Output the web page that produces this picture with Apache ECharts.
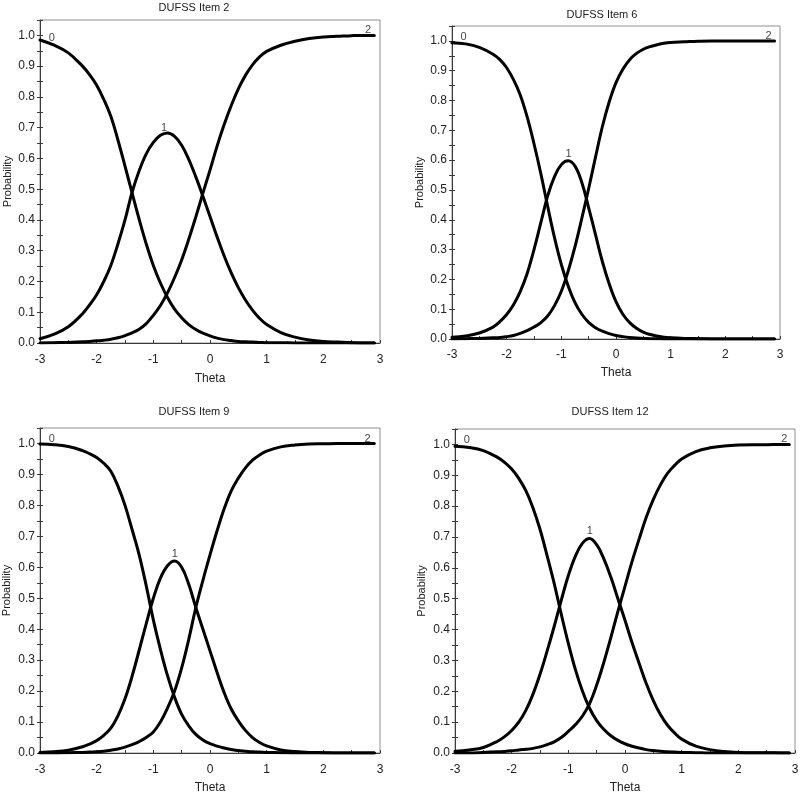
<!DOCTYPE html>
<html>
<head>
<meta charset="utf-8">
<script src="https://cdn.jsdelivr.net/npm/echarts@6/dist/echarts.min.js"></script>
<style>
html,body{margin:0;padding:0;background:#fff;}
#chart{width:800px;height:795px;}
</style>
</head>
<body>
<div id="chart"></div>
<script>
// ---- Data ----
const theta = [-3,-2.75,-2.5,-2.25,-2.125,-2,-1.875,-1.75,-1.625,-1.5,-1.375,-1.25,-1.125,-1,-0.875,-0.75,-0.625,-0.5,-0.375,-0.25,-0.125,0,0.125,0.25,0.375,0.5,0.625,0.75,0.875,1,1.25,1.5,1.75,2,2.25,2.5,2.75,2.9];

const panelTitles = ['DUFSS Item 2','DUFSS Item 6','DUFSS Item 9','DUFSS Item 12'];
const categoryNames = ['0','1','2'];
const xTickLabels = ['-3','-2','-1','0','1','2','3'];
const yTickLabels = ['0.0','0.1','0.2','0.3','0.4','0.5','0.6','0.7','0.8','0.9','1.0'];

const item2_cat0 = [0.985,0.968,0.943,0.9,0.872,0.838,0.792,0.737,0.66,0.575,0.488,0.402,0.322,0.252,0.195,0.148,0.11,0.082,0.06,0.044,0.032,0.023,0.016,0.011,0.008,0.005,0.004,0.003,0.002,0.001,0.001,0,0,0,0,0,0,0];
const item2_cat1 = [0.014,0.029,0.053,0.095,0.124,0.157,0.2,0.252,0.322,0.4,0.49,0.56,0.615,0.652,0.675,0.683,0.672,0.643,0.597,0.54,0.477,0.411,0.345,0.283,0.228,0.18,0.14,0.107,0.08,0.06,0.034,0.019,0.01,0.005,0.003,0.001,0,0];
const item2_cat2 = [0,0.001,0.002,0.004,0.005,0.007,0.009,0.012,0.017,0.024,0.033,0.045,0.063,0.09,0.122,0.163,0.213,0.27,0.337,0.41,0.487,0.562,0.64,0.71,0.772,0.826,0.87,0.904,0.93,0.948,0.968,0.981,0.99,0.995,0.997,0.999,1,1];

const item6_cat0 = [0.994,0.99,0.978,0.955,0.937,0.91,0.87,0.818,0.745,0.655,0.555,0.445,0.34,0.25,0.178,0.122,0.083,0.056,0.038,0.026,0.018,0.012,0.008,0.005,0.003,0.002,0.001,0.001,0,0,0,0,0,0,0,0,0,0];
const item6_cat1 = [0.006,0.01,0.02,0.04,0.058,0.082,0.115,0.16,0.22,0.3,0.39,0.48,0.545,0.585,0.598,0.58,0.525,0.44,0.35,0.26,0.185,0.125,0.083,0.055,0.036,0.023,0.015,0.01,0.006,0.004,0.002,0.001,0,0,0,0,0,0];
const item6_cat2 = [0,0.001,0.002,0.004,0.005,0.008,0.012,0.019,0.028,0.04,0.055,0.077,0.112,0.16,0.228,0.31,0.405,0.505,0.61,0.712,0.795,0.86,0.905,0.937,0.958,0.972,0.981,0.987,0.992,0.995,0.997,0.999,1,1,1,1,1,1];

const item9_cat0 = [0.998,0.996,0.99,0.977,0.967,0.955,0.936,0.91,0.862,0.8,0.722,0.64,0.54,0.43,0.335,0.25,0.18,0.125,0.088,0.06,0.042,0.03,0.022,0.016,0.011,0.008,0.006,0.004,0.003,0.002,0.001,0,0,0,0,0,0,0];
const item9_cat1 = [0.002,0.004,0.009,0.02,0.029,0.04,0.057,0.08,0.12,0.175,0.248,0.332,0.418,0.5,0.565,0.605,0.62,0.6,0.545,0.47,0.4,0.33,0.26,0.195,0.142,0.104,0.073,0.05,0.034,0.023,0.01,0.005,0.002,0.001,0,0,0,0];
const item9_cat2 = [0,0,0.001,0.002,0.003,0.004,0.006,0.009,0.013,0.019,0.027,0.037,0.05,0.068,0.1,0.145,0.2,0.275,0.367,0.47,0.558,0.64,0.718,0.789,0.847,0.888,0.921,0.946,0.963,0.975,0.989,0.995,0.998,0.999,1,1,1,1];

const item12_cat0 = [0.994,0.99,0.98,0.958,0.942,0.92,0.89,0.85,0.795,0.725,0.64,0.55,0.45,0.355,0.27,0.2,0.145,0.105,0.077,0.056,0.041,0.03,0.022,0.016,0.011,0.008,0.006,0.004,0.003,0.002,0.001,0,0,0,0,0,0,0];
const item12_cat1 = [0.006,0.01,0.018,0.038,0.053,0.073,0.1,0.138,0.19,0.255,0.33,0.41,0.495,0.575,0.638,0.68,0.695,0.675,0.63,0.57,0.5,0.43,0.357,0.29,0.225,0.17,0.125,0.09,0.065,0.045,0.022,0.011,0.005,0.002,0.001,0.001,0,0];
const item12_cat2 = [0,0,0.002,0.004,0.005,0.007,0.01,0.012,0.015,0.02,0.027,0.036,0.05,0.07,0.092,0.12,0.16,0.22,0.293,0.374,0.459,0.54,0.621,0.694,0.764,0.822,0.869,0.906,0.932,0.953,0.977,0.989,0.995,0.998,0.999,0.999,1,1];

// curve label anchor points [theta, probability] for categories 0,1,2
const item2_labelAt  = [[-2.79,0.99],[-0.81,0.70],[2.79,1.016]];
const item6_labelAt  = [[-2.79,1.012],[-0.87,0.62],[2.79,1.018]];
const item9_labelAt  = [[-2.79,1.014],[-0.62,0.642],[2.78,1.016]];
const item12_labelAt = [[-2.79,1.014],[-0.62,0.718],[2.81,1.018]];

const panelCurves = [
  [item2_cat0,item2_cat1,item2_cat2],
  [item6_cat0,item6_cat1,item6_cat2],
  [item9_cat0,item9_cat1,item9_cat2],
  [item12_cat0,item12_cat1,item12_cat2]
];
const panelLabels = [item2_labelAt,item6_labelAt,item9_labelAt,item12_labelAt];

// ---- Layout ----
const FONT = '"Liberation Sans", Arial, Helvetica, sans-serif';
const TXT = '#222';
const AX = '#3a3a3a';
const layout = [
  {left:40,  top:20,  width:340, height:323, tx:194, ty:7.5, xGap:30,   xMargin:11,   yGap:27},
  {left:452, top:26,  width:328, height:313, tx:602, ty:15,  xGap:28,   xMargin:9.5,  yGap:27},
  {left:40,  top:428, width:340, height:325, tx:194, ty:412, xGap:28.5, xMargin:10.5, yGap:28},
  {left:455, top:429, width:340, height:324, tx:610, ty:412, xGap:28.5, xMargin:10.5, yGap:28}
];

function near(v, step){ const k = v/step; return Math.abs(k - Math.round(k)) < 1e-6; }
function xFmt(v){
  if (!near(v,1)) return '';
  const idx = Math.round(v) + 3;
  return xTickLabels[idx] !== undefined ? xTickLabels[idx] : '';
}
function yFmt(v){
  if (!near(v,0.1) || v > 1.0001) return '';
  return yTickLabels[Math.round(v*10)];
}

const grids = [], xAxes = [], yAxes = [], series = [], graphics = [];
layout.forEach((L, i) => {
  grids.push({left:L.left, top:L.top, width:L.width, height:L.height, show:true,
    borderColor:'#8f8f8f', borderWidth:1, backgroundColor:'transparent',
    containLabel:false, outerBoundsMode:'none'});
  xAxes.push({
    type:'value', gridIndex:i, min:-3, max:3, interval:0.5, position:'bottom',
    name:'Theta', nameLocation:'middle', nameGap:L.xGap,
    nameTextStyle:{fontSize:12, color:TXT, fontFamily:FONT},
    axisLine:{show:true, onZero:false, lineStyle:{color:AX, width:1}},
    axisTick:{show:true, inside:true, length:3, lineStyle:{color:AX, width:1}},
    axisLabel:{show:true, margin:L.xMargin, fontSize:12, color:TXT, fontFamily:FONT, formatter:xFmt,
      showMinLabel:true, showMaxLabel:true, hideOverlap:false},
    splitLine:{show:false}, minorTick:{show:false}
  });
  yAxes.push({
    type:'value', gridIndex:i, min:0, max:1.05, interval:0.05, position:'left',
    name:'Probability', nameLocation:'middle', nameGap:L.yGap, nameRotate:90,
    nameTextStyle:{fontSize:11, color:TXT, fontFamily:FONT},
    axisLine:{show:true, onZero:false, lineStyle:{color:AX, width:1}},
    axisTick:{show:true, inside:false, length:3, lineStyle:{color:AX, width:1}},
    axisLabel:{show:true, margin:5, fontSize:12, color:TXT, fontFamily:FONT, formatter:yFmt,
      showMinLabel:true, showMaxLabel:true, hideOverlap:false},
    splitLine:{show:false}
  });
  yAxes.push({
    type:'value', gridIndex:i, min:0, max:1.05, interval:0.05, position:'left',
    axisLine:{show:false, onZero:false},
    axisTick:{show:true, inside:true, length:3, lineStyle:{color:AX, width:1}},
    axisLabel:{show:false}, splitLine:{show:false}
  });
  panelCurves[i].forEach((vals, c) => {
    series.push({
      type:'line', name:categoryNames[c], xAxisIndex:i, yAxisIndex:2*i,
      data: theta.map((t,k)=>[t, vals[k]]),
      smooth:0.4, symbol:'none', showSymbol:false, silent:true, animation:false,
      lineStyle:{color:'#000', width:3, cap:'round', join:'round'}, z:3
    });
  });
  series.push({
    type:'scatter', xAxisIndex:i, yAxisIndex:2*i+1, silent:true, animation:false,
    symbolSize:1, itemStyle:{color:'rgba(0,0,0,0)'},
    data: panelLabels[i].map((pt,c)=>({value:pt, name:categoryNames[c]})),
    label:{show:true, position:'inside', formatter:'{b}', fontSize:11, color:'#111', fontFamily:FONT},
    z:5
  });
  graphics.push({type:'text', x:L.tx, y:L.ty, silent:true,
    style:{text:panelTitles[i], font:'11px '+FONT, fill:TXT, align:'center', verticalAlign:'middle',
      textAlign:'center', textVerticalAlign:'middle'}});
});

const chart = echarts.init(document.getElementById('chart'), null, {renderer:'canvas', width:800, height:795});
chart.setOption({
  animation:false,
  backgroundColor:'#fff',
  grid:grids, xAxis:xAxes, yAxis:yAxes, series:series, graphic:graphics,
  tooltip:{show:false}, legend:{show:false}
});
</script>
</body>
</html>
